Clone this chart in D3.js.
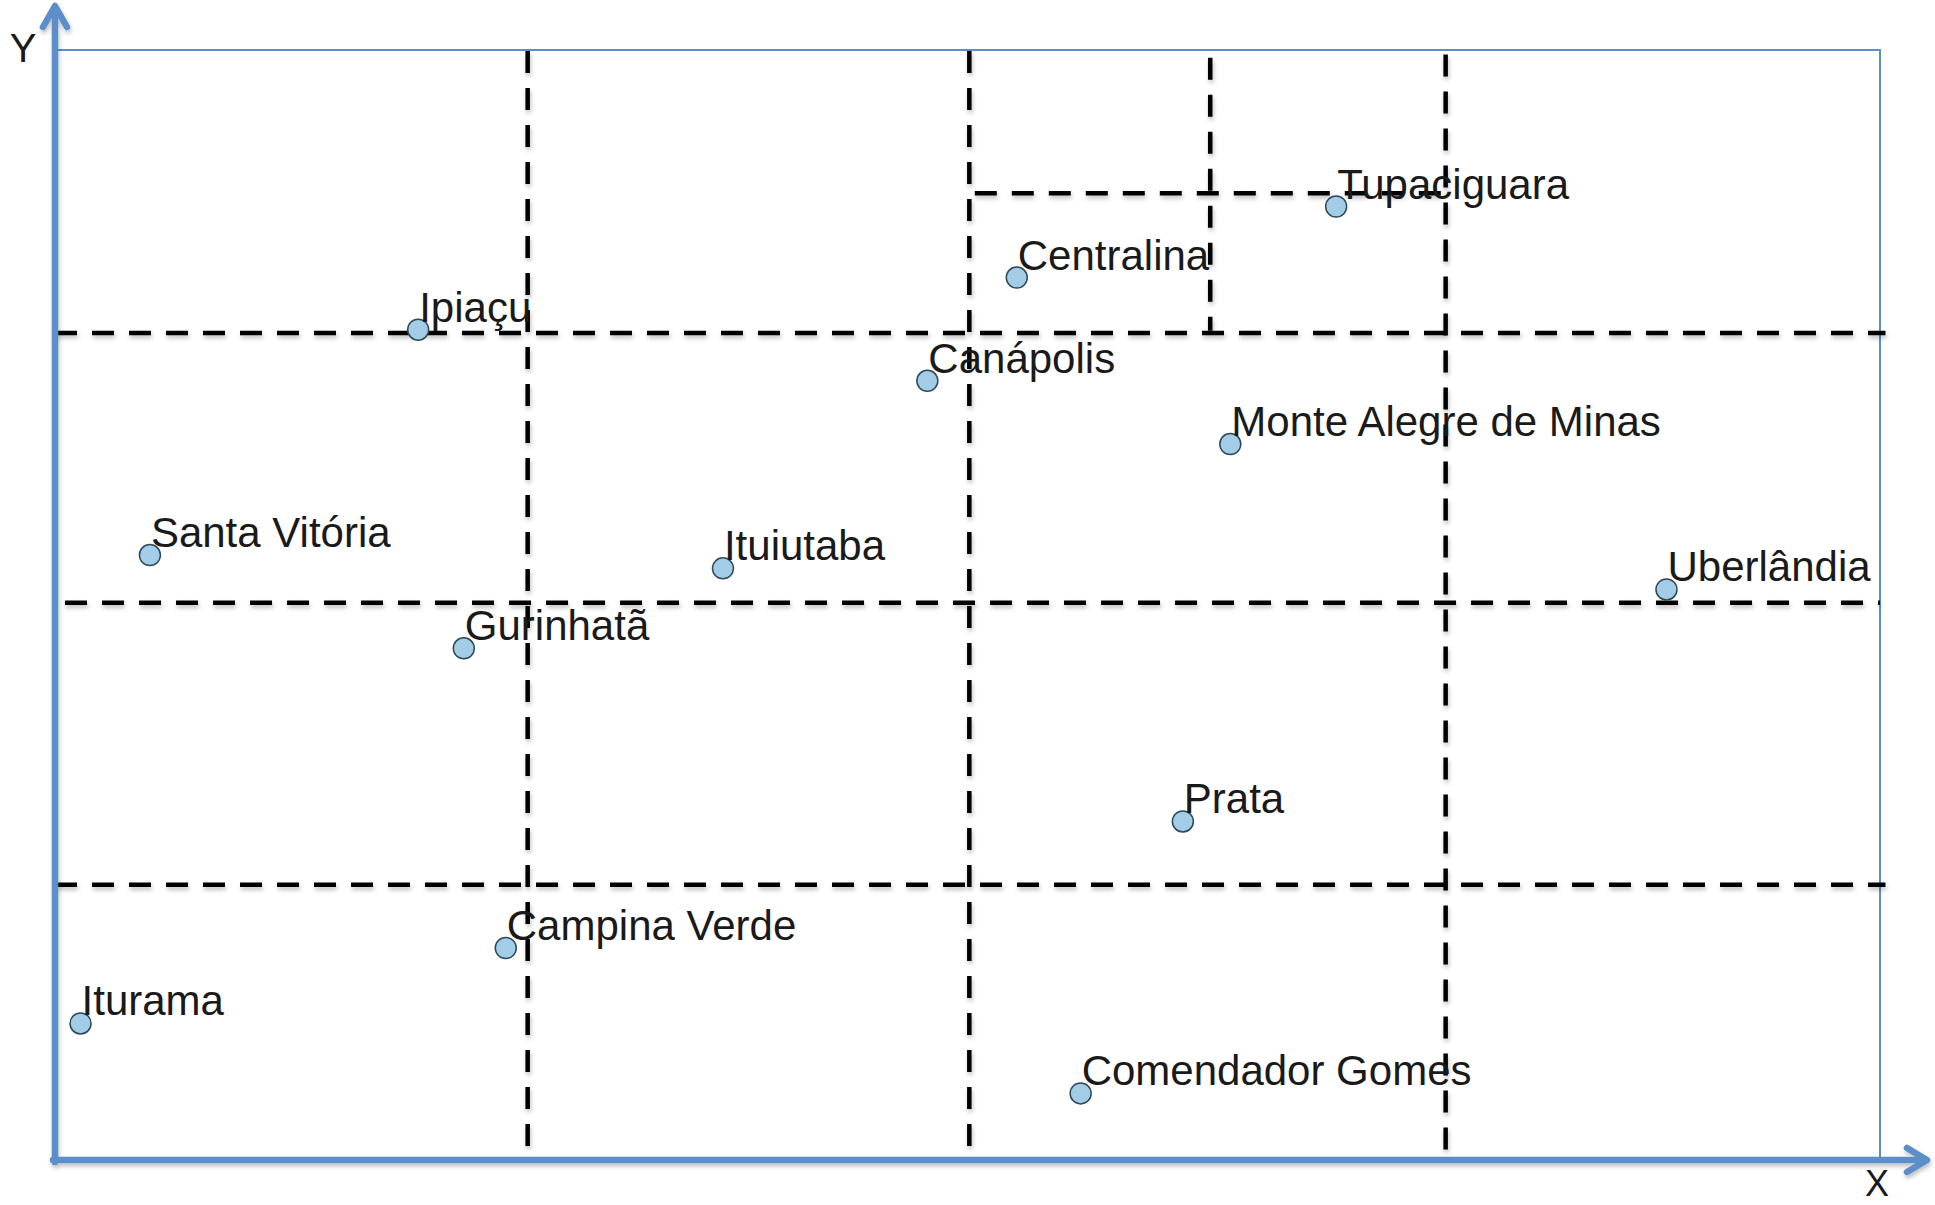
<!DOCTYPE html>
<html>
<head>
<meta charset="utf-8">
<script src="https://cdn.jsdelivr.net/npm/d3@7"></script>
<style>
  html, body { margin: 0; padding: 0; background: #ffffff; }
  svg { display: block; }
  text { font-family: "Liberation Sans", Arial, Helvetica, sans-serif; fill: #1a1a1a; }
</style>
</head>
<body>
<svg id="chart" width="1935" height="1205"></svg>
<script>
// ---- data (map units, 0..100 on both axes) ----
const cityNames = ["Tupaciguara", "Centralina", "Ipiaçu", "Canápolis", "Monte Alegre de Minas",
  "Santa Vitória", "Ituiutaba", "Uberlândia", "Gurinhatã", "Prata", "Campina Verde",
  "Iturama", "Comendador Gomes"];
const cityX = [70.2, 52.7, 19.9, 47.8, 64.4, 5.2, 36.6, 88.3, 22.4, 61.8, 24.7, 1.4, 56.2];
const cityY = [85.9, 79.5, 74.8, 70.2, 64.5, 54.5, 53.3, 51.4, 46.1, 30.5, 19.1, 12.3, 6.0];

// vertical dividers: x position, y from, y to
const vDivX    = [25.9, 50.1, 76.2, 63.3];
const vDivFrom = [0.45, 0.45, 0.7, 74.7];
const vDivTo   = [99.9, 99.9, 99.6, 99.3];
// horizontal dividers: y position, x from, x to
const hDivY    = [74.5, 50.2, 24.8, 87.1];
const hDivFrom = [0.0, 0.55, 0.0, 50.4];
const hDivTo   = [100.3, 100.0, 100.3, 76.2];

const axisLabels = ["X", "Y"];

// ---- layout ----
const svg = d3.select("#chart");
const mLeft = 55, mRight = 1880, mTop = 50, mBottom = 1160;
const x = d3.scaleLinear().domain([0, 100]).range([mLeft, mRight]);
const y = d3.scaleLinear().domain([0, 100]).range([mBottom, mTop]);

const axisColor = "#5b8fca";

const defs = svg.append("defs");
const sh = defs.append("filter").attr("id", "shadow")
  .attr("filterUnits", "userSpaceOnUse")
  .attr("x", 0).attr("y", 0).attr("width", 1935).attr("height", 1205);
sh.append("feDropShadow").attr("dx", 1).attr("dy", 3).attr("stdDeviation", 2)
  .attr("flood-color", "#000").attr("flood-opacity", 0.25);

// thin frame (top and right)
svg.append("path")
  .attr("d", `M${x(0)},${y(100)} H${x(100)} V${y(0)}`)
  .attr("fill", "none").attr("stroke", axisColor).attr("stroke-width", 2);

// dashed dividers
const dashG = svg.append("g").attr("filter", "url(#shadow)");
vDivX.forEach((v, i) => {
  dashG.append("line")
    .attr("x1", x(v)).attr("x2", x(v))
    .attr("y1", y(vDivTo[i])).attr("y2", y(vDivFrom[i]))
    .attr("stroke", "#000").attr("stroke-width", 4.5)
    .attr("stroke-dasharray", "22,15");
});
hDivY.forEach((v, i) => {
  dashG.append("line")
    .attr("y1", y(v)).attr("y2", y(v))
    .attr("x1", x(hDivFrom[i])).attr("x2", x(hDivTo[i]))
    .attr("stroke", "#000").attr("stroke-width", 4.5)
    .attr("stroke-dasharray", "22,15");
});

// axes with arrows
const axG = svg.append("g").attr("filter", "url(#shadow)")
  .attr("fill", "none").attr("stroke", axisColor).attr("stroke-width", 6.5)
  .attr("stroke-linecap", "round").attr("stroke-linejoin", "round");
axG.append("line").attr("x1", mLeft).attr("x2", mLeft).attr("y1", mBottom + 2).attr("y2", 8);
axG.append("line").attr("x1", mLeft - 2).attr("x2", 1925).attr("y1", mBottom).attr("y2", mBottom);
axG.append("path").attr("d", `M${mLeft - 12},27 L${mLeft},6 L${mLeft + 12},27`);
axG.append("path").attr("d", `M1907,${mBottom - 12} L1927,${mBottom} L1907,${mBottom + 12}`);

// axis labels
svg.append("text").attr("x", 23).attr("y", 62).attr("text-anchor", "middle")
  .attr("font-size", 40).text(axisLabels[1]);
svg.append("text").attr("x", 1877).attr("y", 1196).attr("text-anchor", "middle")
  .attr("font-size", 36).text(axisLabels[0]);

// cities
const data = cityNames.map((n, i) => ({ name: n, x: cityX[i], y: cityY[i] }));
const cg = svg.append("g").selectAll("g").data(data).join("g");
cg.append("circle")
  .attr("cx", d => x(d.x)).attr("cy", d => y(d.y)).attr("r", 10.5)
  .attr("fill", "#a3cde6").attr("stroke", "#2e4a5a").attr("stroke-width", 1.5);
cg.append("text")
  .attr("x", d => x(d.x) + 1).attr("y", d => y(d.y) - 8)
  .attr("font-size", 42).text(d => d.name);
</script>
</body>
</html>
